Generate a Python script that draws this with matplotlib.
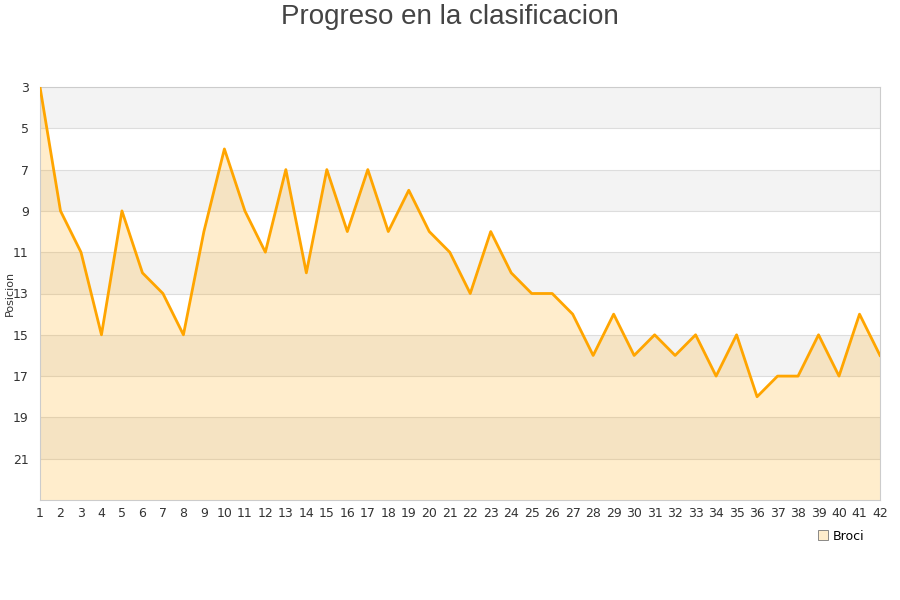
import matplotlib.pyplot as plt
import numpy as np

jornadas = np.arange(1, 43)
posicion = [3, 9, 11, 15, 9, 12, 13, 15, 10, 6, 9, 11, 7, 12, 7, 10, 7, 10, 8, 10,
            11, 13, 10, 12, 13, 13, 14, 16, 14, 16, 15, 16, 15, 17, 15, 18, 17, 17,
            15, 17, 14, 16]
y_ticks = [3, 5, 7, 9, 11, 13, 15, 17, 19, 21]

fig = plt.figure(figsize=(9, 6), dpi=100)
ax = fig.add_axes([40 / 900, 100 / 600, 840 / 900, 413 / 600])

# alternating horizontal bands
for lo in range(3, 23, 4):
    ax.axhspan(lo, lo + 2, color="#f3f3f3", lw=0, zorder=0)
for t in range(5, 23, 2):
    ax.axhline(t, color="#dddddd", lw=0.8, zorder=1)

ax.fill_between(jornadas, posicion, 23, color="#ffa500", alpha=0.2, lw=0, zorder=2)
ax.plot(jornadas, posicion, color="#ffa500", lw=2, zorder=3)

ax.set_xlim(1, 42)
ax.set_ylim(23, 3)
ax.set_yticks(y_ticks)
ax.set_xticks(jornadas)
ax.tick_params(length=0, labelsize=9, colors="#333333")
ax.tick_params(axis="x", pad=5)
ax.tick_params(axis="y", pad=8)
for s in ax.spines.values():
    s.set_color("#cccccc")

ax.set_ylabel("Posicion", fontsize=8, color="#333333")
ax.yaxis.set_label_coords(-0.03, 0.5)
fig.text(0.5, 0.972, "Progreso en la clasificacion", ha="center", va="center",
         fontsize=20, color="#444444", family="Liberation Sans")

ax.plot([], [], ls="none", marker="s", markersize=7, markerfacecolor="#ffedcc",
        markeredgecolor="#777777", markeredgewidth=0.6, label="Broci")
ax.legend(loc="upper right", bbox_to_anchor=(0.995, -0.045), frameon=False,
          fontsize=9, handletextpad=0.3, handlelength=1)

fig.savefig("out.png", dpi=100)
